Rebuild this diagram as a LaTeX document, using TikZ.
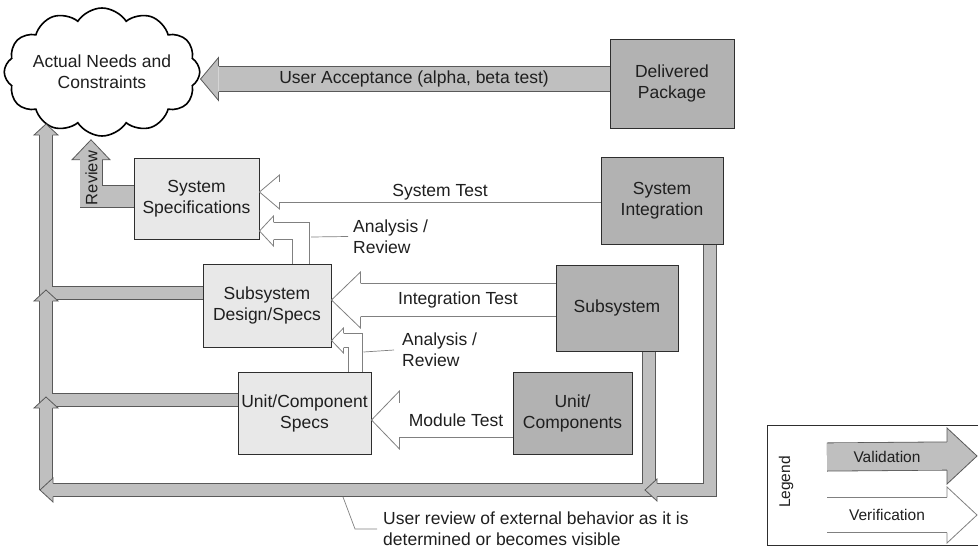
\documentclass[tikz,border=0pt]{standalone}
\usepackage{fontspec}
\setmainfont{Liberation Sans}
\usetikzlibrary{shapes.symbols,calc}
\definecolor{boxdark}{gray}{0.70}
\definecolor{boxlight}{gray}{0.91}
\definecolor{boxline}{gray}{0.18}
\definecolor{valfill}{gray}{0.75}
\definecolor{valline}{gray}{0.35}
\definecolor{verline}{gray}{0.5}
\definecolor{txt}{gray}{0.12}
\newcommand{\vvfont}{\fontsize{17.5}{21}\selectfont}
\newcommand{\vvsmall}{\fontsize{15.5}{19}\selectfont}
\tikzset{
  vv box/.style={rectangle,draw=boxline,line width=1pt,text=txt,align=center,
    font=\vvfont,inner sep=2pt},
  dark box/.style={vv box,fill=boxdark},
  light box/.style={vv box,fill=boxlight},
  val band/.style={draw=valline,line width=0.8pt,double=valfill,double distance=#1},
  ver band/.style={draw=verline,line width=0.8pt,double=white,double distance=#1},
  val head/.style={fill=valfill,draw=valline,line width=0.8pt},
  ver head/.style={fill=white,draw=verline,line width=0.8pt},
  vv label/.style={text=txt,font=\vvfont,align=left,inner sep=0pt},
  leader/.style={draw=verline,line width=0.7pt}
}
% head of a block arrow: style, tip, angle, body half, head half, length
\newcommand{\vvhead}[6]{%
  \filldraw[#1,shift={(#2)},rotate=#3] (-#6,#4) -- (-#6,#5) -- (0,0)
    -- (-#6,-#5) -- (-#6,-#4);%
}

\begin{document}
\begin{tikzpicture}[x=1pt,y=-1pt]
  \useasboundingbox (0,0) rectangle (979,554);
  % levels and corners
  \coordinate (acc) at (0,79);
  \coordinate (stest) at (0,192);
  \coordinate (itest) at (0,300);
  \coordinate (mtest) at (0,420);
  \coordinate (rvw) at (91,196.5);
  \coordinate (anaup) at (301,231);
  \coordinate (analo) at (355.5,340.5);
  \coordinate (rail) at (46,0);
  \coordinate (railtop) at (46,124);
  \coordinate (subrow) at (0,293);
  \coordinate (unitrow) at (0,400);
  \coordinate (bottom) at (0,490);
  \coordinate (subcorner) at (649,490);
  \coordinate (sicorner) at (710,490);

  % boxes
  \node[cloud,cloud puffs=12,cloud puff arc=115,cloud ignores aspect,draw=black,
    line width=1.6pt,fill=white,inner sep=0pt,
    minimum width=180pt,minimum height=128pt,
    text=txt,align=center,font=\vvfont] (needs) at (102,72)
    {Actual Needs and\\Constraints};
  \node[dark box,minimum width=124pt,minimum height=89pt] (deliv) at (672,83.5)
    {Delivered\\Package};
  \node[dark box,minimum width=122pt,minimum height=87pt] (sysint) at (662,200.5)
    {System\\Integration};
  \node[dark box,minimum width=122pt,minimum height=86pt] (subsys) at (617,308)
    {Subsystem};
  \node[dark box,minimum width=119pt,minimum height=82pt] (units) at (572.5,413)
    {Unit/\\Components};
  \node[light box,minimum width=125pt,minimum height=81pt] (sysspec) at (196.5,198.5)
    {System\\Specifications};
  \node[light box,minimum width=128pt,minimum height=83pt] (subdes) at (267,305.5)
    {Subsystem\\Design/Specs};
  \node[light box,minimum width=133pt,minimum height=82pt] (unitspec) at (304.5,413)
    {Unit/Component\\Specs};

  % validation
  \draw[val band=24.4pt] (deliv.west |- acc) -- node[vv label] (acclbl)
    {User Acceptance (alpha, beta test)} ($(needs.east |- acc)+(18,0)$);
  \vvhead{val head}{needs.east |- acc}{180}{12.6}{21.5}{18}
  \draw[val band=21.4pt] (sysspec.west |- rvw) -- (rvw) -- ($(needs.south -| rvw)+(0,23)$);
  \vvhead{val head}{$(needs.south -| rvw)+(0,3)$}{90}{11.1}{19}{20}
  \node[rotate=90,text=txt,font=\fontsize{16.5}{19}\selectfont,inner sep=0pt]
    (rvwlbl) at (91.5,178) {Review};

  \draw[val band=12.4pt] (subdes.west |- subrow) -- (rail |- subrow)
    -- ($(railtop)+(0,11)$);
  \vvhead{val head}{railtop}{90}{6.6}{12}{11}
  \draw[val band=12.4pt] (unitspec.west |- unitrow) -- (rail |- unitrow)
    -- ($(rail |- subrow)+(0,8)$);
  \vvhead{val head}{$(rail |- subrow)+(0,-3)$}{90}{6.6}{12}{11}
  \draw[val band=12.4pt] (subsys.south -| subcorner) -- (subcorner)
    -- ($(rail |- bottom)+(7,0)$);
  \draw[val band=12.4pt] (rail |- bottom) -- ($(rail |- unitrow)+(0,8)$);
  \vvhead{val head}{$(rail |- unitrow)+(0,-3)$}{90}{6.6}{12}{11}
  \vvhead{val head}{$(rail |- bottom)+(-6,0)$}{180}{6.6}{12}{13}
  \draw[val band=12.4pt] (sysint.south -| sicorner) -- (sicorner)
    -- ($(subcorner)+(8,0)$);
  \vvhead{val head}{$(subcorner)+(-4,0)$}{180}{6.6}{11}{12}

  % verification
  \draw[ver band=19.4pt] (sysint.west |- stest) -- node[vv label] (stlbl)
    {System Test} ($(sysspec.east |- stest)+(20,0)$);
  \vvhead{ver head}{sysspec.east |- stest}{180}{10.1}{17}{20}
  \draw[ver band=32.4pt] (subsys.west |- itest) -- node[vv label] (itlbl)
    {Integration Test} ($(subdes.east |- itest)+(29,0)$);
  \vvhead{ver head}{subdes.east |- itest}{180}{16.6}{28}{29}
  \draw[ver band=33.4pt] (units.west |- mtest) -- node[vv label] (mtlbl)
    {Module Test} ($(unitspec.east |- mtest)+(28,0)$);
  \vvhead{ver head}{unitspec.east |- mtest}{180}{17.1}{29}{28}
  \draw[ver band=16.4pt] (subdes.north -| anaup) -- (anaup)
    -- ($(sysspec.east |- anaup)+(14,0)$);
  \vvhead{ver head}{sysspec.east |- anaup}{180}{8.6}{15}{14}
  \draw[ver band=13.4pt] (unitspec.north -| analo) -- (analo)
    -- ($(subdes.east |- analo)+(12,0)$);
  \vvhead{ver head}{subdes.east |- analo}{180}{7.1}{12.5}{12}

  % labels with leaders
  \node[vv label,anchor=west] (anauplbl) at (353,236.5) {Analysis /\\Review};
  \draw[leader] ($(anaup)+(10,6)$) -- ($(anauplbl.west)+(-5,0)$);
  \node[vv label,anchor=west] (analolbl) at (402,350) {Analysis /\\Review};
  \draw[leader] ($(analo)+(8,11.5)$) -- ($(analolbl.west)+(-8,0)$);
  \node[vv label,anchor=west] (urlbl) at (383,529)
    {User review of external behavior as it is\\determined or becomes visible};
  \draw[leader] ($(bottom)+(343,7)$) -- ($(urlbl.west)+(-28,0)$)
    -- ($(urlbl.west)+(-6,0)$);

  % legend
  \draw[draw=boxline,line width=0.9pt] (978,425) -- (767,425) -- (767,545) -- (978,545);
  \node[rotate=90,text=txt,font=\vvsmall,inner sep=0pt] (legend) at (786,482) {Legend};
  \coordinate (valtail) at (827,457);
  \coordinate (valtip) at (977,456);
  \coordinate (vertail) at (827,515);
  \coordinate (vertip) at (977,515);
  \draw[val band=27.4pt] (valtail) -- node[vv label,font=\vvsmall] (vallbl)
    {Validation} ($(valtip)+(-30,0)$);
  \vvhead{val head}{valtip}{0}{14.1}{28}{30}
  \draw[ver band=34.4pt] (vertail) -- node[vv label,font=\vvsmall] (verlbl)
    {Verification} ($(vertip)+(-30,0)$);
  \vvhead{ver head}{vertip}{0}{17.6}{28}{30}
\end{tikzpicture}
\end{document}
